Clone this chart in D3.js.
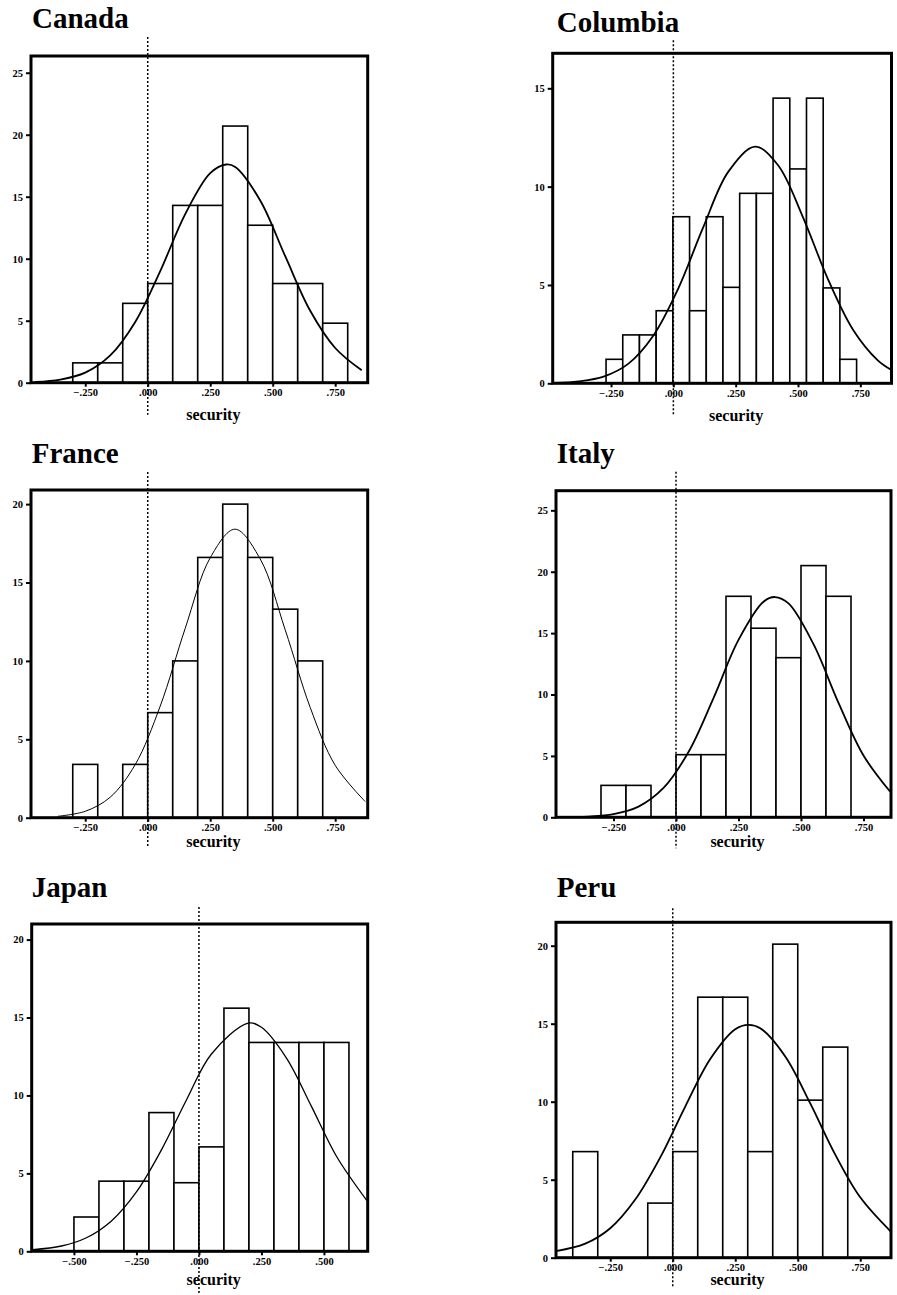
<!DOCTYPE html>
<html>
<head>
<meta charset="utf-8">
<script src="https://cdn.jsdelivr.net/npm/d3@7"></script>
<style>
    body { margin: 0; background: #fff; }
    svg { display: block; }
    .tick text { font-family: "Liberation Serif", "Times New Roman", serif; font-weight: bold; font-size: 10.5px; }
    .title { font-family: "Liberation Serif", "Times New Roman", serif; font-weight: bold; font-size: 29px; }
    .x-label { font-family: "Liberation Serif", "Times New Roman", serif; font-weight: bold; font-size: 16px; }
</style>
</head>
<body>
<div id="chart"></div>
<script>

// ---- data (percent of cases per bin) ----
const countries = ["Canada", "Columbia", "France", "Italy", "Japan", "Peru"];

const binStarts = [-0.3, -0.27, -0.3, -0.3, -0.5, -0.4];
const binWidths = [0.1, 0.067, 0.1, 0.1, 0.1, 0.1];

const canadaPct   = [1.6, 1.6, 6.4, 8.0, 14.3, 14.3, 20.7, 12.7, 8.0, 8.0, 4.8];
const columbiaPct = [1.22, 2.46, 2.46, 3.69, 8.47, 3.69, 8.47, 4.88, 9.66, 9.66, 14.5, 10.9, 14.5, 4.85, 1.22];
const francePct   = [3.4, 0, 3.4, 6.7, 10.0, 16.6, 20.0, 16.6, 13.3, 10.0];
const italyPct    = [2.6, 2.6, 0, 5.1, 5.1, 18.0, 15.4, 13.0, 20.5, 18.0];
const japanPct    = [2.2, 4.5, 4.5, 8.9, 4.4, 6.7, 15.6, 13.4, 13.4, 13.4, 13.4];
const peruPct     = [6.8, 0, 0, 3.5, 6.8, 16.7, 16.7, 6.8, 20.1, 10.1, 13.5];

// normal curves, points
const canadaCurveX   = [-0.45, -0.35, -0.25, -0.15, -0.05, 0.05, 0.15, 0.25, 0.313, 0.35, 0.45, 0.55, 0.65, 0.75, 0.856];
const canadaCurveY   = [0.06, 0.25, 0.81, 2.2, 4.9, 9.0, 13.6, 16.9, 17.6, 17.4, 14.7, 10.2, 5.8, 2.8, 1.0];
const columbiaCurveX = [-0.48, -0.38, -0.28, -0.18, -0.08, 0.02, 0.12, 0.22, 0.328, 0.42, 0.52, 0.62, 0.72, 0.82, 0.876];
const columbiaCurveY = [0.02, 0.10, 0.34, 1.0, 2.43, 4.83, 7.94, 10.75, 12.03, 11.09, 8.44, 5.30, 2.74, 1.17, 0.67];
const franceCurveX   = [-0.36, -0.25, -0.15, -0.05, 0.05, 0.15, 0.25, 0.349, 0.45, 0.55, 0.65, 0.75, 0.87];
const franceCurveY   = [0.09, 0.41, 1.31, 3.39, 7.12, 12.08, 16.58, 18.4, 16.5, 11.98, 7.03, 3.34, 1.03];
const italyCurveX    = [-0.48, -0.35, -0.25, -0.15, -0.05, 0.05, 0.15, 0.25, 0.35, 0.396, 0.45, 0.55, 0.65, 0.75, 0.856];
const italyCurveY    = [0.01, 0.06, 0.26, 0.87, 2.39, 5.32, 9.71, 14.45, 17.56, 17.94, 17.42, 14.1, 9.32, 5.03, 2.10];
const japanCurveX    = [-0.665, -0.55, -0.45, -0.35, -0.25, -0.15, -0.05, 0.05, 0.197, 0.25, 0.35, 0.45, 0.55, 0.672];
const japanCurveY    = [0.10, 0.34, 0.87, 1.95, 3.81, 6.51, 9.71, 12.66, 14.64, 14.37, 12.4, 9.3, 6.1, 3.25];
const peruCurveX     = [-0.467, -0.35, -0.25, -0.15, -0.05, 0.05, 0.15, 0.25, 0.303, 0.35, 0.45, 0.55, 0.65, 0.75, 0.873];
const peruCurveY     = [0.42, 0.9, 1.89, 3.73, 6.43, 9.69, 12.74, 14.65, 14.93, 14.71, 12.9, 9.89, 6.61, 3.87, 1.66];

// axis ranges and tick labels
const xDomains = [[-0.467, 0.88], [-0.484, 0.875], [-0.467, 0.88], [-0.48, 0.86], [-0.669, 0.675], [-0.467, 0.873]];
const yMaxes = [26.35, 16.78, 20.9, 26.6, 21.0, 21.5];
const xTicksMain = [-0.25, 0, 0.25, 0.5, 0.75];
const xTicksJapan = [-0.5, -0.25, 0, 0.25, 0.5];
const yTicks25 = [0, 5, 10, 15, 20, 25];
const yTicks20 = [0, 5, 10, 15, 20];
const yTicks15 = [0, 5, 10, 15];
const xLabel = "security";

// ---- layout of the six panels (pixels) ----
const layout = [
    { left: 31,    top: 56,    right: 367.7, bottom: 382.7,  titleX: 32,    titleY: 28.3,  dashUp: 19, dashDown: 32, labelDy: 37.3, curveW: 1.8 },
    { left: 552.7, top: 53.3,  right: 891.5, bottom: 383.3,  titleX: 556.7, titleY: 31.7,  dashUp: 13, dashDown: 32, labelDy: 37.4, curveW: 1.8 },
    { left: 31,    top: 490,   right: 367.7, bottom: 817.7,  titleX: 31.7,  titleY: 463.3, dashUp: 18, dashDown: 30, labelDy: 29,   curveW: 1.0 },
    { left: 556,   top: 490.7, right: 891,   bottom: 817.3,  titleX: 556.7, titleY: 463.3, dashUp: 19, dashDown: 31, labelDy: 29.4, curveW: 1.8 },
    { left: 31.7,  top: 924,   right: 367.7, bottom: 1251.3, titleX: 31.7,  titleY: 896.7, dashUp: 17, dashDown: 44, labelDy: 33.7, curveW: 1.3 },
    { left: 556,   top: 922.3, right: 891,   bottom: 1257.7, titleX: 556.7, titleY: 897.3, dashUp: 14, dashDown: 29, labelDy: 27.3, curveW: 1.8 }
];

const pcts = [canadaPct, columbiaPct, francePct, italyPct, japanPct, peruPct];
const curveXs = [canadaCurveX, columbiaCurveX, franceCurveX, italyCurveX, japanCurveX, peruCurveX];
const curveYs = [canadaCurveY, columbiaCurveY, franceCurveY, italyCurveY, japanCurveY, peruCurveY];
const xTickSets = [xTicksMain, xTicksMain, xTicksMain, xTicksMain, xTicksJapan, xTicksMain];
const yTickSets = [yTicks25, yTicks15, yTicks20, yTicks25, yTicks20, yTicks20];


class HistogramVis {

    constructor(svg, index) {
        this.svg = svg;
        this.index = index;
        this.box = layout[index];

        this.bins = pcts[index].map((v, i) => {
            return {
                x0: binStarts[index] + i * binWidths[index],
                x1: binStarts[index] + (i + 1) * binWidths[index],
                value: v
            };
        }).filter(d => d.value > 0);

        this.curve = curveXs[index].map((x, i) => ({ x: x, y: curveYs[index][i] }));

        this.initVis();
    }

    initVis() {
        let vis = this;
        let b = vis.box;

        vis.g = vis.svg.append("g").attr("class", "panel");

        vis.x = d3.scaleLinear()
            .domain(xDomains[vis.index])
            .range([b.left, b.right]);
        vis.y = d3.scaleLinear()
            .domain([0, yMaxes[vis.index]])
            .range([b.bottom, b.top]);

        let fmt = d => d3.format(".3f")(d).replace("0.", ".");

        vis.xAxis = d3.axisBottom(vis.x)
            .tickValues(xTickSets[vis.index])
            .tickFormat(fmt)
            .tickSize(4)
            .tickPadding(2);
        vis.yAxis = d3.axisLeft(vis.y)
            .tickValues(yTickSets[vis.index])
            .tickSize(5)
            .tickPadding(3);

        vis.g.append("text")
            .attr("class", "title")
            .attr("x", b.titleX)
            .attr("y", b.titleY)
            .text(countries[vis.index]);

        vis.updateVis();
    }

    updateVis() {
        let vis = this;
        let b = vis.box;

        // bars
        vis.g.selectAll(".bar")
            .data(vis.bins)
            .enter()
            .append("rect")
            .attr("class", "bar")
            .attr("x", d => vis.x(d.x0))
            .attr("y", d => vis.y(d.value))
            .attr("width", d => vis.x(d.x1) - vis.x(d.x0))
            .attr("height", d => vis.y(0) - vis.y(d.value))
            .attr("fill", "white")
            .attr("stroke", "black")
            .attr("stroke-width", 1.6);

        // fitted normal curve
        const line = d3.line()
            .x(d => vis.x(d.x))
            .y(d => vis.y(d.y))
            .curve(d3.curveCatmullRom);

        vis.g.append("path")
            .datum(vis.curve)
            .attr("d", line)
            .attr("fill", "none")
            .attr("stroke", "black")
            .attr("stroke-width", b.curveW);

        // frame
        vis.g.append("rect")
            .attr("x", b.left)
            .attr("y", b.top)
            .attr("width", b.right - b.left)
            .attr("height", b.bottom - b.top)
            .attr("fill", "none")
            .attr("stroke", "black")
            .attr("stroke-width", 3);

        let xg = vis.g.append("g")
            .attr("class", "axis x-axis")
            .attr("transform", "translate(0," + b.bottom + ")")
            .call(vis.xAxis);
        xg.select(".domain").remove();
        xg.selectAll("line").attr("stroke-width", 2);

        let yg = vis.g.append("g")
            .attr("class", "axis y-axis")
            .attr("transform", "translate(" + b.left + ",0)")
            .call(vis.yAxis);
        yg.select(".domain").remove();
        yg.selectAll("line").attr("stroke-width", 2);

        // reference line at zero
        vis.g.append("line")
            .attr("x1", vis.x(0))
            .attr("x2", vis.x(0))
            .attr("y1", b.top - b.dashUp)
            .attr("y2", b.bottom + b.dashDown)
            .attr("stroke", "black")
            .attr("stroke-width", 1.5)
            .attr("stroke-dasharray", "2,2");

        vis.g.append("text")
            .attr("class", "x-label")
            .attr("x", (b.left + b.right) / 2 + 14)
            .attr("y", b.bottom + b.labelDy)
            .style("text-anchor", "middle")
            .text(xLabel);
    }
}

let svg = d3.select("#chart").append("svg")
    .attr("width", 897)
    .attr("height", 1295);

countries.forEach((c, i) => new HistogramVis(svg, i));

</script>
</body>
</html>
